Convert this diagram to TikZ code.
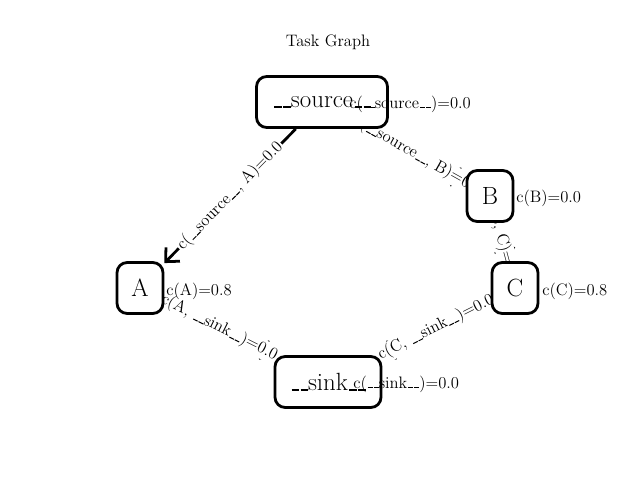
\documentclass[tikz,border=0pt]{standalone}
\usepackage{tikz}
\usetikzlibrary{arrows.meta}
\pgfdeclarelayer{bg}
\pgfsetlayers{bg,main}
\newcommand\us{\leavevmode\kern.06em\rule[-.02em]{.3em}{.06em}}
\tikzset{
  task/.style={draw,line width=2pt,rounded corners=2.6mm,fill=white,inner sep=0,
    minimum height=51*.254mm,font=\fontsize{18}{20}\selectfont},
  cost/.style={anchor=west,inner sep=0,font=\fontsize{12}{14}\selectfont},
  dep/.style={line width=2pt,-{Straight Barb[length=2.6mm,width=5mm]}},
  deplabel/.style={midway,sloped,fill=white,inner sep=1pt,font=\fontsize{12}{14}\selectfont}
}
\begin{document}
\begin{tikzpicture}[x=.254mm,y=-.254mm]
\useasboundingbox(0,0)rectangle(640,480);
\node[font=\fontsize{12}{14}\selectfont](title)at(328,42){Task Graph};
% tasks
\node[task,minimum width=131*.254mm](src)at(322,102){\us\us source\us\us};
\node[task,minimum width=46*.254mm](B)at(490,196){B};
\node[task,minimum width=46*.254mm](A)at(140,288){A};
\node[task,minimum width=46*.254mm](C)at(515,288){C};
\node[task,minimum width=106*.254mm](snk)at(328,382){\us\us sink\us\us};
% dependencies
\begin{pgfonlayer}{bg}
\draw[dep](src)--(A)node[deplabel]{c(\us\us source\us\us, A)=0.0};
\draw[dep](src)--(B)node[deplabel]{c(\us\us source\us\us, B)=0.0};
\draw[dep](B)--(C)node[deplabel]{c(B, C)=0.0};
\draw[dep](A)--(snk)node[deplabel]{c(A, \us\us sink\us\us)=0.0};
\draw[dep](C)--(snk)node[deplabel]{c(C, \us\us sink\us\us)=0.0};
\end{pgfonlayer}
% costs
\node[cost](csrc)at(349,104){c(\us\us source\us\us)=0.0};
\node[cost](cB)at(516,198){c(B)=0.0};
\node[cost](cA)at(166,291){c(A)=0.8};
\node[cost](cC)at(542,291){c(C)=0.8};
\node[cost](csnk)at(353,384){c(\us\us sink\us\us)=0.0};
\end{tikzpicture}
\end{document}
